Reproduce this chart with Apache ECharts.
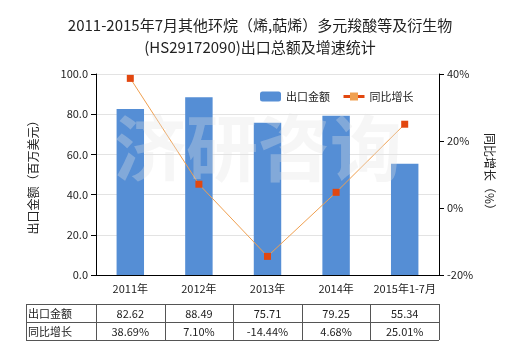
<!DOCTYPE html>
<html><head><meta charset="utf-8">
<script src="https://cdn.jsdelivr.net/npm/echarts@6/dist/echarts.min.js"></script>
<style>html,body{margin:0;padding:0;background:#fff}#c{width:520px;height:350px}</style>
</head><body><div id="c"></div>
<script>
var categories = ['2011年','2012年','2013年','2014年','2015年1-7月'];
var exportValues = [82.62, 88.49, 75.71, 79.25, 55.34];
var growthValues = [38.69, 7.10, -14.44, 4.68, 25.01];
var exportLabels = ['82.62','88.49','75.71','79.25','55.34'];
var growthLabels = ['38.69%','7.10%','-14.44%','4.68%','25.01%'];
var rowNames = ['出口金额','同比增长'];

var W = 520, H = 350;
var gL = 96, gR = 439, gT = 74, gB = 275;
var tableLeft = 26, rowTops = [304, 322, 340];
var font = '"Noto Sans CJK SC", "Noto Sans", sans-serif';

var chart = echarts.init(document.getElementById('c'), null, {renderer:'canvas'});

function buildTable(){
  var els = [];
  var cw = (gR - gL) / categories.length;
  var stroke = {stroke:'#555', lineWidth:1};
  rowTops.forEach(function(y){
    els.push({type:'line', shape:{x1:tableLeft, y1:y+0.5, x2:gR, y2:y+0.5}, style:stroke, silent:true});
  });
  var xs = [tableLeft];
  for (var i=0;i<=categories.length;i++) xs.push(gL + i*cw);
  xs.forEach(function(x){
    els.push({type:'line', shape:{x1:Math.round(x)+0.5, y1:rowTops[0], x2:Math.round(x)+0.5, y2:rowTops[2]}, style:stroke, silent:true});
  });
  var rows = [exportLabels, growthLabels];
  rows.forEach(function(r, ri){
    var yc = (rowTops[ri] + rowTops[ri+1]) / 2 + 1;
    els.push({type:'text', x: tableLeft+2, y: yc, style:{text: rowNames[ri], font:'11px '+font, fill:'#222', textVerticalAlign:'middle', verticalAlign:'middle'}, silent:true});
    r.forEach(function(t, ci){
      els.push({type:'text', x: gL + (ci+0.5)*cw, y: yc, style:{text:t, font:'11px '+font, fill:'#222', textAlign:'center', align:'center', textVerticalAlign:'middle', verticalAlign:'middle'}, silent:true});
    });
  });
  els.push({type:'text', x: 258, y: 148, z: 100, style:{text:'济研咨询', font:'bold 72px '+font, fill:'rgba(228,228,228,0.32)', textAlign:'center', align:'center', textVerticalAlign:'middle', verticalAlign:'middle'}, silent:true});
  return els;
}

var option = {
  animation:false,
  backgroundColor:'#fff',
  title:{
    text:'2011-2015年7月其他环烷（烯,萜烯）多元羧酸等及衍生物\n(HS29172090)出口总额及增速统计',
    left:'center', top:9,
    textStyle:{fontFamily:font, fontSize:15, fontWeight:'normal', color:'#222', lineHeight:22}
  },
  legend:{
    top:86, left:255, itemWidth:21, itemHeight:10, itemGap:12,
    textStyle:{fontFamily:font, fontSize:11, color:'#222'},
    data:[{name:'出口金额'},{name:'同比增长', itemStyle:{color:'#F0A050', borderColor:'#E2470F'}, lineStyle:{color:'#E2470F', width:3}}]
  },
  grid:{left:gL, right:W-gR, top:gT, bottom:H-gB},
  xAxis:{
    type:'category', data:categories,
    axisLine:{lineStyle:{color:'#000'}},
    axisTick:{alignWithLabel:true, lineStyle:{color:'#000'}},
    axisLabel:{fontFamily:font, fontSize:11, color:'#222', margin:8, interval:0}
  },
  yAxis:[{
    type:'value', min:0, max:100, interval:20,
    name:'出口金额（百万美元）', nameLocation:'middle', nameGap:57, nameRotate:90,
    nameTextStyle:{fontFamily:font, fontSize:12, color:'#222'},
    axisLine:{show:true, lineStyle:{color:'#000'}},
    axisTick:{show:true, lineStyle:{color:'#000'}},
    axisLabel:{fontFamily:font, fontSize:11, color:'#222', formatter:function(v){return v.toFixed(1);}},
    splitLine:{lineStyle:{color:'#e3e3e3'}}
  },{
    type:'value', min:-20, max:40, interval:20,
    name:'同比增长（%）', nameLocation:'middle', nameGap:44, nameRotate:-90,
    nameTextStyle:{fontFamily:font, fontSize:12, color:'#222'},
    axisLine:{show:true, lineStyle:{color:'#000'}},
    axisTick:{show:true, lineStyle:{color:'#000'}},
    axisLabel:{fontFamily:font, fontSize:11, color:'#222', formatter:'{value}%'},
    splitLine:{show:false}
  }],
  series:[{
    name:'出口金额', type:'bar', data:exportValues, barWidth:'40%',
    itemStyle:{color:'#558ED5'}
  },{
    name:'同比增长', type:'line', yAxisIndex:1, data:growthValues,
    symbol:'rect', symbolSize:7,
    itemStyle:{color:'#E2470F'},
    lineStyle:{color:'#F0A050', width:1}
  }],
  graphic: buildTable()
};
chart.setOption(option);
</script>
</body></html>
